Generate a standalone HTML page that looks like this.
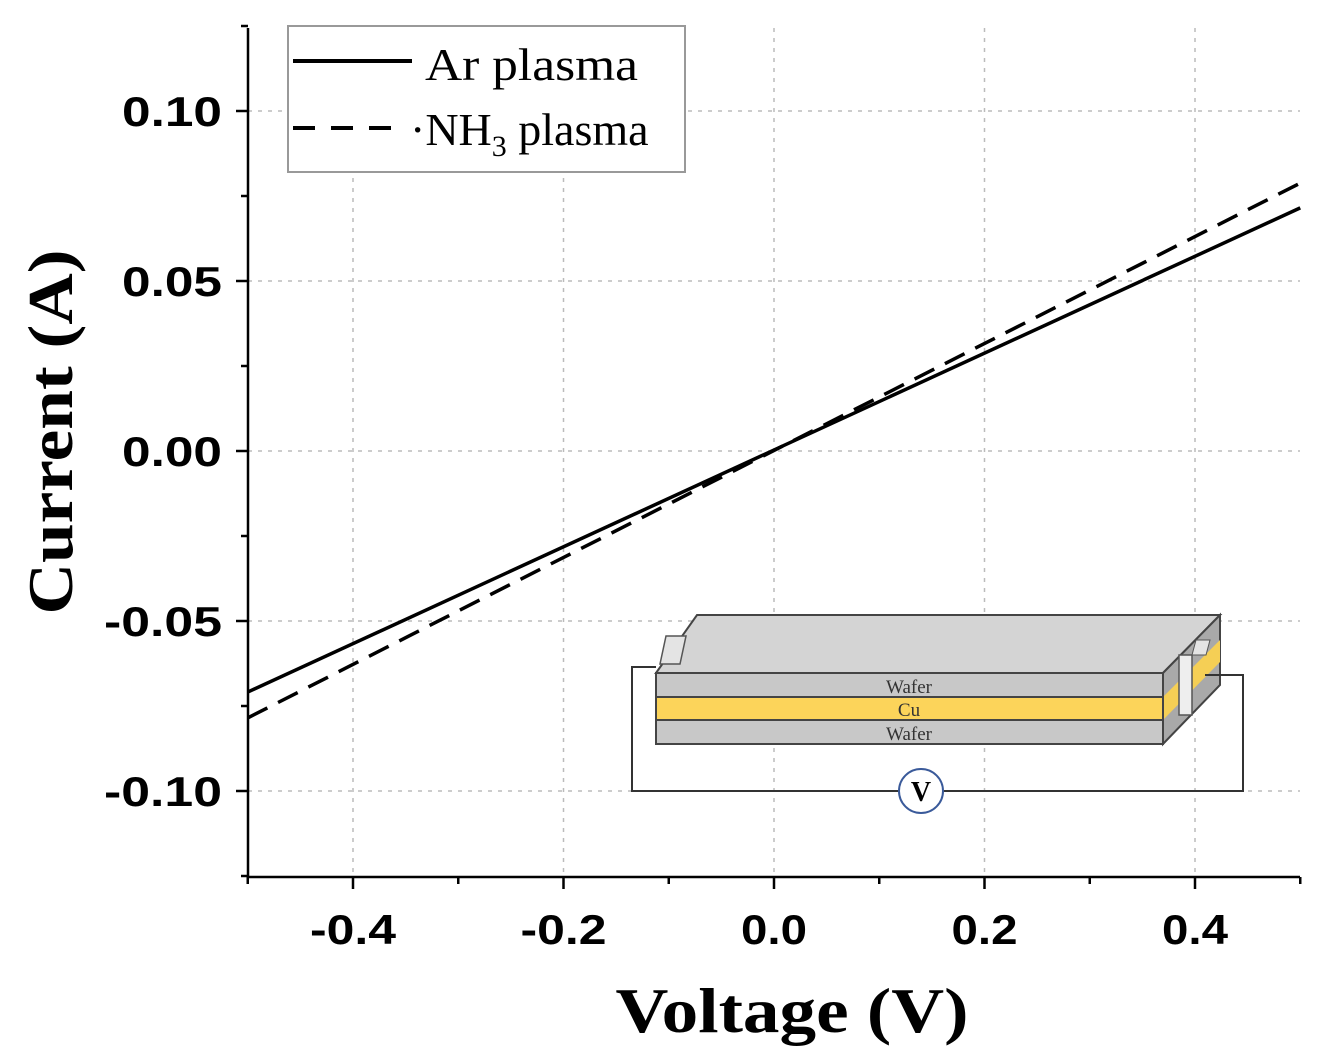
<!DOCTYPE html>
<html><head><meta charset="utf-8"><style>
body{margin:0;background:#fff;}
svg{display:block;font-family:"Liberation Sans",sans-serif;}
</style></head><body>
<svg id="c" width="1335" height="1056" viewBox="0 0 1335 1056">
<g id="grid"></g>
<g id="axes"></g>
<g id="inset">
 <polygon points="656,673 697,615 1220,615 1163,673" fill="#d4d4d4" stroke="#444" stroke-width="2"/>
 <polygon points="1163,673 1220,615 1220,685 1163,744" fill="#a9a9a9" stroke="#444" stroke-width="2"/>
 <polygon points="1163,697 1220,640 1220,662 1163,720" fill="#f5cf55"/>
 <rect x="656" y="673" width="507" height="24" fill="#c8c8c8" stroke="#444" stroke-width="2"/>
 <rect x="656" y="697" width="507" height="23" fill="#fcd45a" stroke="#444" stroke-width="2"/>
 <rect x="656" y="720" width="507" height="24" fill="#c8c8c8" stroke="#444" stroke-width="2"/>
 <polygon points="660,664 666,636 686,636 680,664" fill="#e4e4e4" stroke="#555" stroke-width="1.5"/>
 <rect x="1179" y="655" width="13" height="60" fill="#eee" stroke="#555" stroke-width="1.5"/>
 <polygon points="1192,655 1196,640 1210,640 1206,655" fill="#e4e4e4" stroke="#555" stroke-width="1"/>
 <text x="909" y="693" font-family="Liberation Serif,serif" font-size="19" text-anchor="middle" fill="#333">Wafer</text>
 <text x="909" y="716" font-family="Liberation Serif,serif" font-size="19" text-anchor="middle" fill="#333">Cu</text>
 <text x="909" y="740" font-family="Liberation Serif,serif" font-size="19" text-anchor="middle" fill="#333">Wafer</text>
 <polyline points="656,667 632,667 632,791 899,791" fill="none" stroke="#333" stroke-width="2"/>
 <polyline points="943,791 1243,791 1243,675 1205,675" fill="none" stroke="#333" stroke-width="2"/>
 <circle cx="921" cy="791" r="22" fill="#fff" stroke="#3a5a9a" stroke-width="2"/>
 <text x="921" y="801" font-family="Liberation Serif,serif" font-size="28" font-weight="bold" text-anchor="middle">V</text>
</g>
<g id="series"></g>
<g>
 <rect x="288" y="26" width="397" height="146" fill="#fff" stroke="#999" stroke-width="2"/>
 <line x1="293" y1="61" x2="412" y2="61" stroke="#000" stroke-width="4"/>
 <text x="425" y="80" font-family="Liberation Serif,serif" font-size="46" textLength="213" lengthAdjust="spacingAndGlyphs">Ar plasma</text>
 <line x1="293" y1="128" x2="400" y2="128" stroke="#000" stroke-width="4" stroke-dasharray="22,16"/>
 <text x="410" y="145" font-family="Liberation Serif,serif" font-size="46">·NH<tspan font-size="30" dy="11">3</tspan><tspan dy="-11"> plasma</tspan></text>
</g>
<text x="792" y="1032" font-size="64" font-weight="bold" font-family="Liberation Serif,serif" text-anchor="middle" textLength="353" lengthAdjust="spacingAndGlyphs">Voltage (V)</text>
<text transform="translate(72,432) rotate(-90)" font-size="64" font-weight="bold" font-family="Liberation Serif,serif" text-anchor="middle" textLength="365" lengthAdjust="spacingAndGlyphs">Current (A)</text>
</svg>
<script>
const xTicks=[-0.4,-0.2,0.0,0.2,0.4];
const yTicks=[-0.10,-0.05,0.00,0.05,0.10];
const voltage=[-0.5,0.5];
const arCurrent=[-0.0709,0.0715];
const nh3Current=[-0.0785,0.0788];
const L=248,R=1300,T=28,B=877;
const sx=v=>774+v*1052.5;
const sy=v=>451-v*3400;
const NS="http://www.w3.org/2000/svg";
function mk(p,t,a){const e=document.createElementNS(NS,t);for(const k in a)e.setAttribute(k,a[k]);p.appendChild(e);return e;}
const g=document.getElementById('grid'),ax=document.getElementById('axes'),se=document.getElementById('series');
xTicks.forEach((v,i)=>{
 const l=mk(g,'line',{x1:sx(v),x2:sx(v),y1:T,y2:B,stroke:'#bbb','stroke-width':1.5,'stroke-dasharray':'4,6'});
 
 
 const s=v.toFixed(1);
 const t=mk(ax,'text',{x:sx(v),y:944,'font-size':42,'font-weight':'bold','text-anchor':'middle',textLength:(s.length>3?86:66),lengthAdjust:'spacingAndGlyphs'});
 t.textContent=s;
 
 
});
yTicks.forEach(v=>{
 const l=mk(g,'line',{x1:L,x2:R,y1:sy(v),y2:sy(v),stroke:'#bbb','stroke-width':1.5,'stroke-dasharray':'4,6'});
 
 
 const s=v.toFixed(2);
 const t=mk(ax,'text',{x:222,y:sy(v)+15,'font-size':42,'font-weight':'bold','text-anchor':'end',textLength:(s.length>4?118:100),lengthAdjust:'spacingAndGlyphs'});
 t.textContent=s;
 
 
});
for(let v=-0.5;v<=0.5001;v+=0.1){mk(ax,'line',{x1:sx(v),x2:sx(v),y1:B,y2:B+(Math.abs(Math.round(v*10))%2===0?12:7),stroke:'#000','stroke-width':2.5});}
for(let v=-0.125;v<=0.1251;v+=0.025){mk(ax,'line',{x1:L,x2:L-(Math.abs(Math.round(v*40))%2===0?12:7),y1:sy(v),y2:sy(v),stroke:'#000','stroke-width':2.5});}
mk(ax,'line',{x1:L,x2:L,y1:T,y2:B+1,stroke:'#000','stroke-width':2.5});
mk(ax,'line',{x1:L-1,x2:R,y1:B,y2:B,stroke:'#000','stroke-width':2.5});
const pts=a=>voltage.map((v,i)=>sx(v)+','+sy(a[i])).join(' ');
const a=mk(se,'polyline',{points:pts(arCurrent),fill:'none',stroke:'#000','stroke-width':3.5});


const n=mk(se,'polyline',{points:pts(nh3Current),fill:'none',stroke:'#000','stroke-width':3.5,'stroke-dasharray':'22,12'});


</script>
</body></html>
